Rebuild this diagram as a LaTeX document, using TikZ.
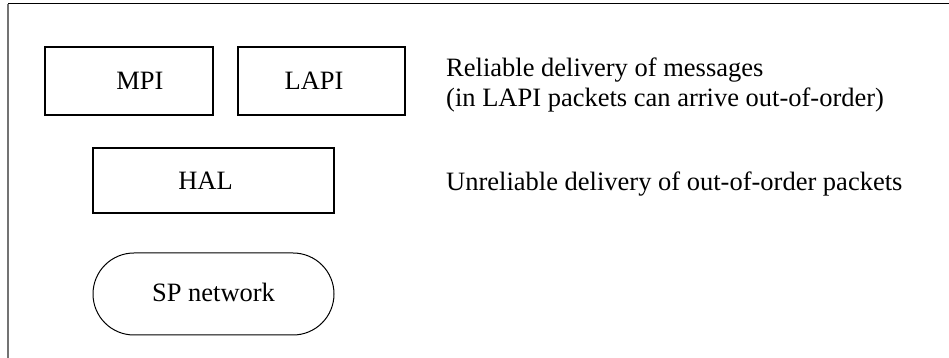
\documentclass[tikz,border=0pt]{standalone}
\usepackage{fontspec}
\setmainfont{Liberation Serif}
\begin{document}
\begin{tikzpicture}[x=1pt,y=1pt,
  layer/.style={draw=black,line width=2pt,minimum height=68pt,inner sep=0pt},
  net/.style={draw=black,line width=1pt,rounded corners=41pt,minimum width=241pt,minimum height=82pt,inner sep=0pt},
  note/.style={anchor=base west,inner sep=0pt,align=left}]
\fontsize{26.5}{30}\selectfont
\useasboundingbox (0,0) rectangle (949,358);
% frame
\draw[line width=1pt,black] (8,354) -- (949,354);
\draw[line width=1.4pt,black!55] (8,354) -- (8,0);
% protocol layers
\node[layer,minimum width=168pt] (mpi) at (129,277) {\hspace*{22pt}\raisebox{-5pt}{MPI}};
\node[layer,minimum width=167pt] (lapi) at (321.5,277) {\raisebox{-5pt}{LAPI}\hspace*{15pt}};
\node[layer,minimum width=241pt,minimum height=65pt] (hal) at (213.5,177.5) {\raisebox{-1pt}{HAL}\hspace*{16pt}};
\node[net] (sp) at (213.5,64) {\raisebox{3pt}{SP network}};
% descriptions
\node[note] (d1) at (446,281) {Reliable delivery of messages};
\node[note] (d2) at (446,251) {(in LAPI packets can arrive out-of-order)};
\node[note] (d3) at (446,167) {Unreliable delivery of out-of-order packets};
\end{tikzpicture}
\end{document}
